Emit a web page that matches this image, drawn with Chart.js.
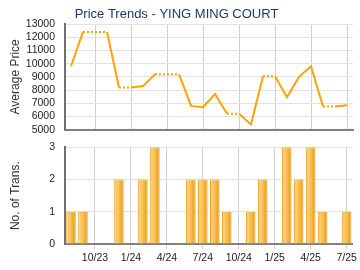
<!DOCTYPE html>
<html>
<head>
<meta charset="utf-8">
<script src="https://cdn.jsdelivr.net/npm/chart.js@4.4.1/dist/chart.umd.min.js"></script>
<style>
  html, body { margin: 0; padding: 0; background: #fff; }
  #wrap { position: relative; width: 360px; height: 270px; overflow: hidden; }
  #priceChart { position: absolute; left: 0; top: 0; }
  #transChart { position: absolute; left: 0; top: 138px; }
</style>
</head>
<body>
<div id="wrap">
  <canvas id="priceChart" width="360" height="139"></canvas>
  <canvas id="transChart" width="360" height="132"></canvas>
</div>
<script>
// --- data (Aug 2023 .. Jul 2025) ---
const months = ['8/23', '9/23', '10/23', '11/23', '12/23', '1/24', '2/24', '3/24', '4/24', '5/24', '6/24', '7/24',
                '8/24', '9/24', '10/24', '11/24', '12/24', '1/25', '2/25', '3/25', '4/25', '5/25', '6/25', '7/25'];
const avgPrice = [9800, 12400, 12400, 12400, 8200, 8200, 8300, 9200, 9200, 9200, 6800, 6700,
                  7700, 6200, 6200, 5400, 9050, 9050, 7450, 9000, 9800, 6750, 6750, 6850];
const transCount = [1, 1, 0, 0, 2, 0, 2, 3, 0, 0, 2, 2,
                    2, 1, 0, 1, 2, 0, 3, 2, 3, 1, 0, 1];
const priceTicks = [5000, 6000, 7000, 8000, 9000, 10000, 11000, 12000, 13000];
const countTicks = [0, 1, 2, 3];

const FONT = 'Arial, "Liberation Sans", sans-serif';
const AXIS_W = 65;       // left axis box width -> plot starts at x=65
const RIGHT_PAD = 7;     // plot ends at x=353

// only every third month gets a grid line / label
const isMarked = i => i % 3 === 2;
const gridColor = c => isMarked(c.index) ? '#cfcfcf' : 'rgba(0,0,0,0)';

function xScale(showLabels) {
    return {
        type: 'category',
        offset: true,
        grid: {
            offset: false,
            color: gridColor,
            tickColor: gridColor,
            drawTicks: showLabels,
            tickLength: 5,
            lineWidth: 1
        },
        border: { display: true, color: '#808080', width: 2 },
        ticks: {
            display: showLabels,
            autoSkip: false,
            maxRotation: 0,
            padding: 3,
            color: '#222',
            font: { family: FONT, size: 10.5 },
            callback: (v, i) => isMarked(i) ? months[i] : ''
        },
        afterFit: s => { s.height = showLabels ? 26 : 0; }
    };
}

function yScale(title, min, max, tickVals) {
    return {
        min, max,
        afterBuildTicks: s => { s.ticks = tickVals.map(v => ({ value: v })); },
        grid: { color: '#e2e2e2', lineWidth: 1, drawTicks: true, tickLength: 7, tickColor: 'rgba(0,0,0,0)' },
        border: { display: true, color: '#707070', width: 2 },
        ticks: {
            autoSkip: false,
            padding: 3,
            color: '#222',
            font: { family: FONT, size: 10.5 },
            callback: v => String(v)
        },
        title: {
            display: true,
            text: title,
            color: '#333',
            font: { family: FONT, size: 12 },
            padding: { top: 8, bottom: 0 }
        },
        afterFit: s => { s.width = AXIS_W; }
    };
}

// --- price trend line ---
new Chart(document.getElementById('priceChart'), {
    type: 'line',
    data: {
        labels: months,
        datasets: [{
            data: avgPrice,
            borderColor: '#ffa200',
            borderWidth: 2,
            pointRadius: 0,
            tension: 0,
            segment: {
                // months with no transactions carry the last price, drawn dotted
                borderDash: s => transCount[s.p1DataIndex] === 0 ? [2, 2] : undefined
            }
        }]
    },
    options: {
        responsive: false,
        animation: false,
        layout: { padding: { left: 0, right: RIGHT_PAD, top: 0, bottom: 0 } },
        plugins: {
            legend: { display: false },
            tooltip: { enabled: false },
            title: {
                display: true,
                text: 'Price Trends - YING MING COURT',
                color: '#1d3a63',
                font: { family: FONT, size: 13, weight: 'normal' },
                padding: { top: 7, bottom: 1.4 }
            }
        },
        scales: {
            x: xScale(false),
            y: yScale('Average Price', 5000, 13000, priceTicks)
        }
    }
});

// --- transaction count bars ---
function barFill(c) {
    const chart = c.chart;
    if (!chart.chartArea || c.type !== 'data') return '#f5b540';
    const x = chart.scales.x.getPixelForValue(c.dataIndex);
    const g = chart.ctx.createLinearGradient(x - 5, 0, x + 5, 0);
    g.addColorStop(0, '#f0a628');
    g.addColorStop(0.15, '#fdd07a');
    g.addColorStop(0.45, '#f9c25a');
    g.addColorStop(0.8, '#f0a626');
    g.addColorStop(1, '#e39300');
    return g;
}

new Chart(document.getElementById('transChart'), {
    type: 'bar',
    data: {
        labels: months,
        datasets: [{
            data: transCount,
            backgroundColor: barFill,
            borderColor: '#eba52e',
            borderWidth: 1,
            barPercentage: 1,
            categoryPercentage: 0.8
        }]
    },
    options: {
        responsive: false,
        animation: false,
        layout: { padding: { left: 0, right: RIGHT_PAD, top: 9, bottom: 0 } },
        plugins: {
            legend: { display: false },
            tooltip: { enabled: false }
        },
        scales: {
            x: xScale(true),
            y: yScale('No. of Trans.', 0, 3, countTicks)
        }
    }
});
</script>
</body>
</html>
